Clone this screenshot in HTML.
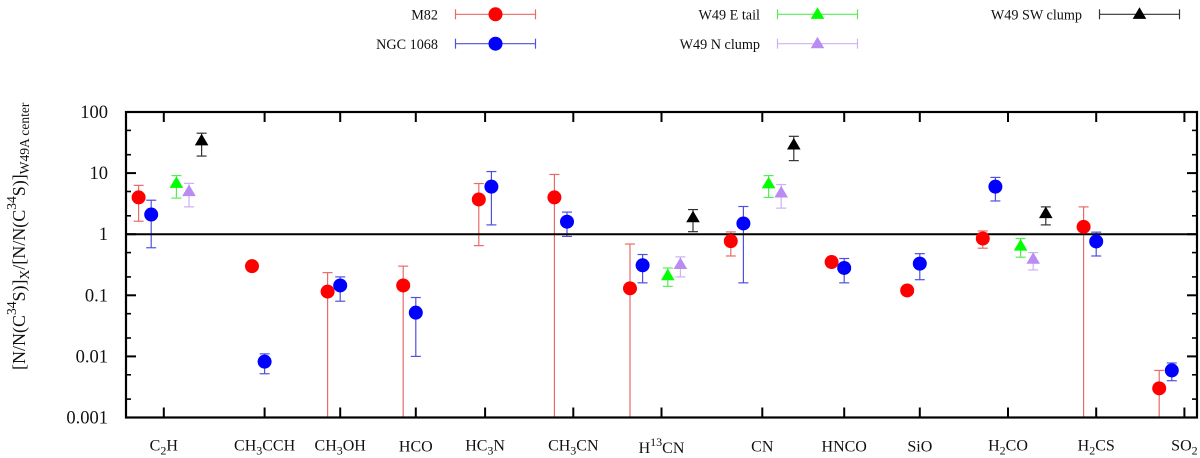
<!DOCTYPE html>
<html lang="en">
<head>
<meta charset="utf-8">
<title>Molecular abundance ratios</title>
<style>
html,body{margin:0;padding:0;background:#fff;width:1200px;height:458px;overflow:hidden}
svg{display:block}
text{font-family:"Liberation Serif",serif;fill:#111}
</style>
</head>
<body>
<svg id="chart" xmlns="http://www.w3.org/2000/svg" width="1200" height="458" viewBox="0 0 1200 458">
  <defs><clipPath id="plot-clip"><rect x="126" y="112" width="1071" height="305.5"></rect></clipPath></defs>
  <text transform="translate(25,370) rotate(-90)" font-size="18">[N/N(C<tspan dy="-9" font-size="13.5">34</tspan><tspan dy="9">S)]</tspan><tspan dy="4" font-size="13.5">X</tspan><tspan dy="-4">/[N/N(C</tspan><tspan dy="-9" font-size="13.5">34</tspan><tspan dy="9">S)]</tspan><tspan dy="4" font-size="13.5">W49A center</tspan></text>
</svg>
<script>
const categories = ["C_2H","CH_3CCH","CH_3OH","HCO","HC_3N","CH_3CN","H^13CN","CN","HNCO","SiO","H_2CO","H_2CS","SO_2"];
const categoryX = [3,11,17,23,28.5,35.5,42.5,50.5,57,63,70,77,84];
const yTickValues = [100,10,1,0.1,0.01,0.001];
const yTickLabels = ["100","10","1","0.1","0.01","0.001"];

const m82X = [1,10,16,22,28,34,40,48,56,62,68,76,82];
const m82Val = [4.0,0.30,0.115,0.145,3.7,4.0,0.13,0.77,0.35,0.12,0.85,1.32,0.003];
const m82Hi = [6.3,null,0.235,0.30,6.75,9.5,0.69,1.09,null,null,1.13,2.8,0.0059];
const m82Lo = [1.63,null,0.0001,0.0001,0.65,0.0001,0.0001,0.44,null,null,0.59,0.0001,0.0001];

const ngcX = [2,11,17,23,29,35,41,49,57,63,69,77,83];
const ngcVal = [2.1,0.0082,0.145,0.052,6.0,1.6,0.31,1.5,0.28,0.33,6.0,0.76,0.0059];
const ngcHi = [3.6,0.011,0.20,0.092,10.6,2.3,0.465,2.84,0.40,0.48,8.5,1.08,0.0078];
const ngcLo = [0.6,0.0052,0.08,0.01,1.42,0.92,0.16,0.16,0.16,0.18,3.5,0.44,0.004];

const eastX = [4,43,51,71];
const eastVal = [6.8,0.21,6.7,0.64];
const eastHi = [9.1,0.28,9.1,0.85];
const eastLo = [3.9,0.14,4.0,0.42];

const northX = [5,44,52,72];
const northVal = [5.0,0.32,4.75,0.39];
const northHi = [6.8,0.425,6.5,0.50];
const northLo = [2.8,0.20,2.67,0.26];

const swX = [6,45,53,73];
const swVal = [33.8,1.87,29,2.18];
const swHi = [45,2.53,40,2.8];
const swLo = [19,1.1,16,1.42];

const referenceLevel = 1;

const svg = document.getElementById('chart');
const NS = 'http://www.w3.org/2000/svg';
const plotLeft = 126, plotRight = 1197, plotTop = 112, plotBottom = 417.5;
const xMax = 85, logMin = -3, logMax = 2;

function xScale(u){ return plotLeft + u * (plotRight - plotLeft) / xMax; }
function yScale(v){ return plotBottom - (Math.log10(v) - logMin) * (plotBottom - plotTop) / (logMax - logMin); }

function make(tag, attrs, parent){
  const el = document.createElementNS(NS, tag);
  for (const k in attrs) el.setAttribute(k, attrs[k]);
  (parent || svg).appendChild(el);
  return el;
}
function line(x1,y1,x2,y2,stroke,width,parent){
  return make('line',{x1:x1,y1:y1,x2:x2,y2:y2,stroke:stroke,'stroke-width':width},parent);
}
function triangle(cx,cy,color,parent){
  const pts = [[cx,cy-7],[cx-6.8,cy+4.6],[cx+6.8,cy+4.6]].map(p=>p.join(',')).join(' ');
  return make('polygon',{points:pts,fill:color},parent);
}

/* axes */
const axes = make('g',{});



categoryX.forEach(function(u, i){
  const x = xScale(u);
  const bottomTick = line(x,plotBottom,x,plotBottom-10,'#000',2,axes);
  
  
  const topTick = line(x,plotTop,x,plotTop+10,'#000',2,axes);
  
  

  const raw = categories[i];
  const baseline = raw.indexOf('^') >= 0 ? 453 : (raw.indexOf('_') >= 0 ? 450.3 : 451.5);
  const t = make('text',{x:x,y:baseline,'font-size':16,'text-anchor':'middle'},axes);
  
  
  const parts = raw.match(/_\d+|\^\d+|[^_^]+/g);
  let shift = 0;
  parts.forEach(function(p){
    const ts = document.createElementNS(NS,'tspan');
    let target = 0;
    if (p[0] === '_'){ target = 4; ts.setAttribute('font-size','12'); p = p.slice(1); }
    else if (p[0] === '^'){ target = -7; ts.setAttribute('font-size','12'); p = p.slice(1); }
    ts.setAttribute('dy', target - shift);
    shift = target;
    ts.textContent = p;
    t.appendChild(ts);
  });
});

yTickValues.forEach(function(v, i){
  const y = yScale(v);
  const leftTick = line(plotLeft,y,plotLeft+10,y,'#000',2,axes);
  
  
  const rightTick = line(plotRight,y,plotRight-10,y,'#000',2,axes);
  
  
  const label = make('text',{x:108,y:y+6,'font-size':18.5,'text-anchor':'end'},axes);
  
  
  label.textContent = yTickLabels[i];
  if (i < yTickValues.length - 1){
    [0.5,0.2].forEach(function(m){
      const my = yScale(v*m);
      const minorLeft = line(plotLeft,my,plotLeft+5,my,'#000',1.6,axes);
      
      
      const minorRight = line(plotRight,my,plotRight-5,my,'#000',1.6,axes);
      
      
    });
  }
});

/* series */
const seriesList = [
  {key:'m82',xs:m82X,vals:m82Val,his:m82Hi,los:m82Lo,color:'#ff0000',err:'#ea6a6a',shape:'circle'},
  {key:'ngc-1068',xs:ngcX,vals:ngcVal,his:ngcHi,los:ngcLo,color:'#0000ff',err:'#5050e0',shape:'circle'},
  {key:'w49-e-tail',xs:eastX,vals:eastVal,his:eastHi,los:eastLo,color:'#00ff00',err:'#55ee55',shape:'triangle'},
  {key:'w49-n-clump',xs:northX,vals:northVal,his:northHi,los:northLo,color:'#b98cf2',err:'#cdb0f5',shape:'triangle'},
  {key:'w49-sw-clump',xs:swX,vals:swVal,his:swHi,los:swLo,color:'#000000',err:'#333333',shape:'triangle'}
];

const errorLayer = make('g',{'clip-path':'url(#plot-clip)'});



seriesList.forEach(function(s){
  s.xs.forEach(function(u, i){
    if (s.his[i] === null) return;
    const x = xScale(u), yh = yScale(s.his[i]), yl = yScale(s.los[i]);
    const g = make('g',{},errorLayer);
    
    
    line(x,yh,x,yl,s.err,1.2,g);
    line(x-5,yh,x+5,yh,s.err,1.2,g);
    line(x-5,yl,x+5,yl,s.err,1.2,g);
  });
});

const refLine = line(plotLeft,yScale(referenceLevel),plotRight,yScale(referenceLevel),'#000',2);



const frame = make('rect',{x:plotLeft,y:plotTop,width:plotRight-plotLeft,height:plotBottom-plotTop,fill:'none',stroke:'#000','stroke-width':2.2});



seriesList.forEach(function(s){
  s.xs.forEach(function(u, i){
    const x = xScale(u), y = yScale(s.vals[i]);
    let mark;
    if (s.shape === 'circle') mark = make('circle',{cx:x,cy:y,r:7,fill:s.color});
    else mark = triangle(x,y,s.color,svg);
    
    
  });
});

/* legend */
const legendNames = ["M82","NGC 1068","W49 E tail","W49 N clump","W49 SW clump"];
const legendCols = [438,438,760,760,1082];
const legendRows = [14.3,43.7,14.3,43.7,14.3];
const legend = make('g',{});


legendNames.forEach(function(name, i){
  const s = seriesList[i];
  const tx = legendCols[i], y = legendRows[i];
  const x1 = tx + 17.5, x2 = tx + 97.5, xm = (x1 + x2) / 2;
  const g = make('g',{},legend);
  
  
  const t = make('text',{x:tx,y:y+5.4,'font-size':14.2,'text-anchor':'end'},g);
  t.textContent = name;
  line(x1,y,x2,y,s.err,1.2,g);
  line(x1,y-5,x1,y+5,s.err,1.2,g);
  line(x2,y-5,x2,y+5,s.err,1.2,g);
  if (s.shape === 'circle') make('circle',{cx:xm,cy:y,r:7,fill:s.color},g);
  else triangle(xm,y,s.color,g);
});
</script>
</body>
</html>
